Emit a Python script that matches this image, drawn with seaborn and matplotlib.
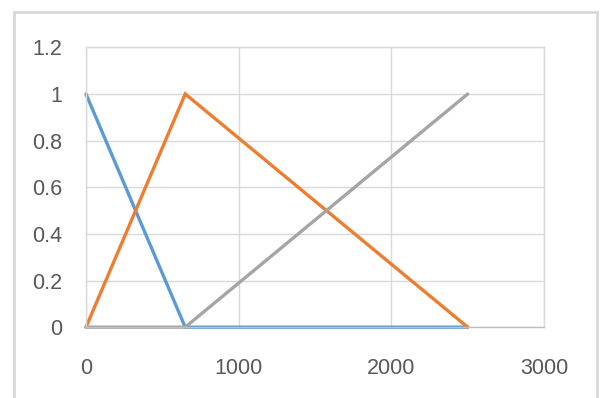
import pandas as pd
import matplotlib.pyplot as plt
import seaborn as sns
from matplotlib.patches import Rectangle

# Data (triangular membership-like functions)
x_vals = [0, 650, 2500]
series_1 = [1, 0, 0]
series_2 = [0, 1, 0]
series_3 = [0, 0, 1]
series_names = ["Series1", "Series2", "Series3"]
colors = ["#5B9BD5", "#ED7D31", "#A5A5A5"]

df = pd.concat([
    pd.DataFrame({"x": x_vals, "y": vals, "series": name})
    for name, vals in zip(series_names, [series_1, series_2, series_3])
], ignore_index=True)

sns.set_style("white")
plt.rcParams["font.family"] = ["Liberation Sans", "DejaVu Sans"]

fig = plt.figure(figsize=(6, 3.98), dpi=100)
ax = fig.add_axes([0.1433, 0.178, 0.7634, 0.703])

sns.lineplot(data=df, x="x", y="y", hue="series", palette=colors,
             hue_order=series_names, sort=False, linewidth=2.4,
             legend=False, ax=ax, estimator=None)

ax.set_xlim(0, 3000)
ax.set_ylim(0, 1.2)
ax.set_xticks([0, 1000, 2000, 3000])
ax.set_yticks([0, 0.2, 0.4, 0.6, 0.8, 1, 1.2])
ax.set_yticklabels(["0", "0.2", "0.4", "0.6", "0.8", "1", "1.2"])
ax.set_xlabel("")
ax.set_ylabel("")
ax.grid(True, color="#d9d9d9", linewidth=1)
ax.set_axisbelow(True)
for side, sp in ax.spines.items():
    sp.set_color("#d9d9d9")
    sp.set_linewidth(1)
ax.spines["bottom"].set_color("#bfbfbf")
ax.tick_params(axis="both", length=0, labelsize=15.5, colors="#595959")
ax.tick_params(axis="x", pad=22)
ax.tick_params(axis="y", pad=17)
for line in ax.get_lines():
    line.set_clip_on(False)
    line.set_solid_joinstyle("miter")

# Outer chart-area border
fig.patches.append(Rectangle((14 / 600, -0.05), 583 / 600, 1 - 12 / 398 + 0.05,
                             transform=fig.transFigure, fill=False,
                             edgecolor="#d9d9d9", linewidth=2))

fig.savefig("out.png", dpi=100)
